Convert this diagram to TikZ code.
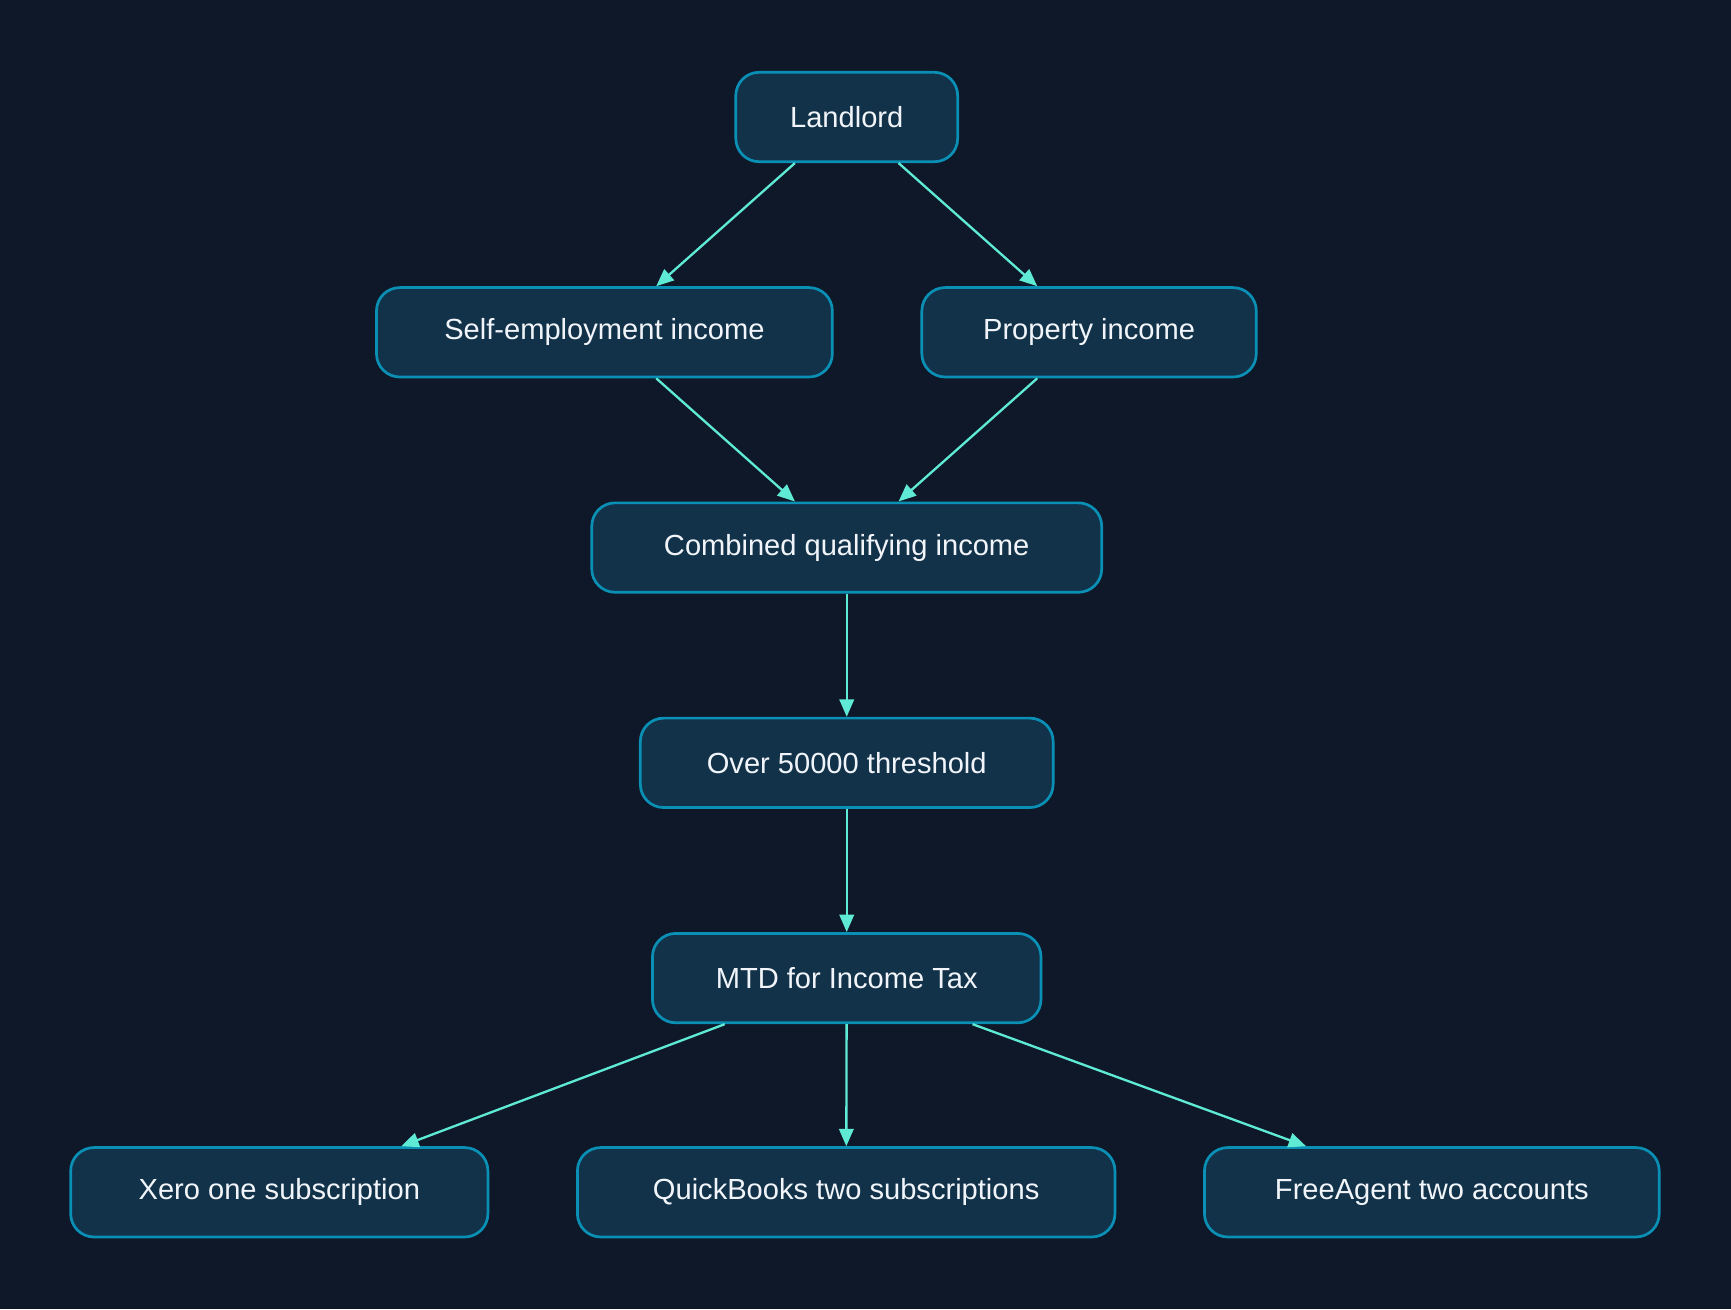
\documentclass[tikz,border=0pt]{standalone}
\usepackage{fontspec}
\setmainfont{Liberation Sans}
\usetikzlibrary{arrows.meta}
\definecolor{bg}{HTML}{0E1829}
\definecolor{nfill}{HTML}{12324A}
\definecolor{nborder}{HTML}{0A8FB5}
\definecolor{edge}{HTML}{5EEAD4}
\definecolor{txt}{HTML}{F1F5F9}
\begin{document}
\begin{tikzpicture}[x=0.02cm,y=-0.02cm,
  box/.style={draw=nborder,fill=nfill,line width=1.4pt,rounded corners=12pt,text=txt,font=\fontsize{15}{18}\selectfont,inner sep=0pt,minimum height=1.62cm},
  arr/.style={draw=edge,line width=1.2pt,-{Triangle[length=9pt,width=7.5pt]}}]
\fill[bg] (0,0) rectangle (1568,1186);
\useasboundingbox (0,0) rectangle (1568,1186);
\node[box,minimum width=4.02cm] (land) at (767,106) {Landlord};
\node[box,minimum width=8.26cm] (self) at (547.5,301) {Self-employment income};
\node[box,minimum width=6.06cm] (prop) at (986.5,301) {Property income};
\node[box,minimum width=9.24cm] (comb) at (767,496) {Combined qualifying income};
\node[box,minimum width=7.48cm] (over) at (767,691) {Over 50000 threshold};
\node[box,minimum width=7.04cm] (mtd) at (767,886) {MTD for Income Tax};
\node[box,minimum width=7.56cm] (xero) at (253,1080) {Xero one subscription};
\node[box,minimum width=9.74cm] (qb) at (766.5,1080) {QuickBooks two subscriptions};
\node[box,minimum width=8.24cm] (fa) at (1297,1080) {FreeAgent two accounts};
\draw[arr] (land) -- (self);
\draw[arr] (land) -- (prop);
\draw[arr] (self) -- (comb);
\draw[arr] (prop) -- (comb);
\draw[arr] (comb) -- (over);
\draw[arr] (over) -- (mtd);
\draw[arr] (mtd) -- (xero);
\draw[arr] (mtd) -- (qb);
\draw[arr] (mtd) -- (fa);
\end{tikzpicture}
\end{document}
